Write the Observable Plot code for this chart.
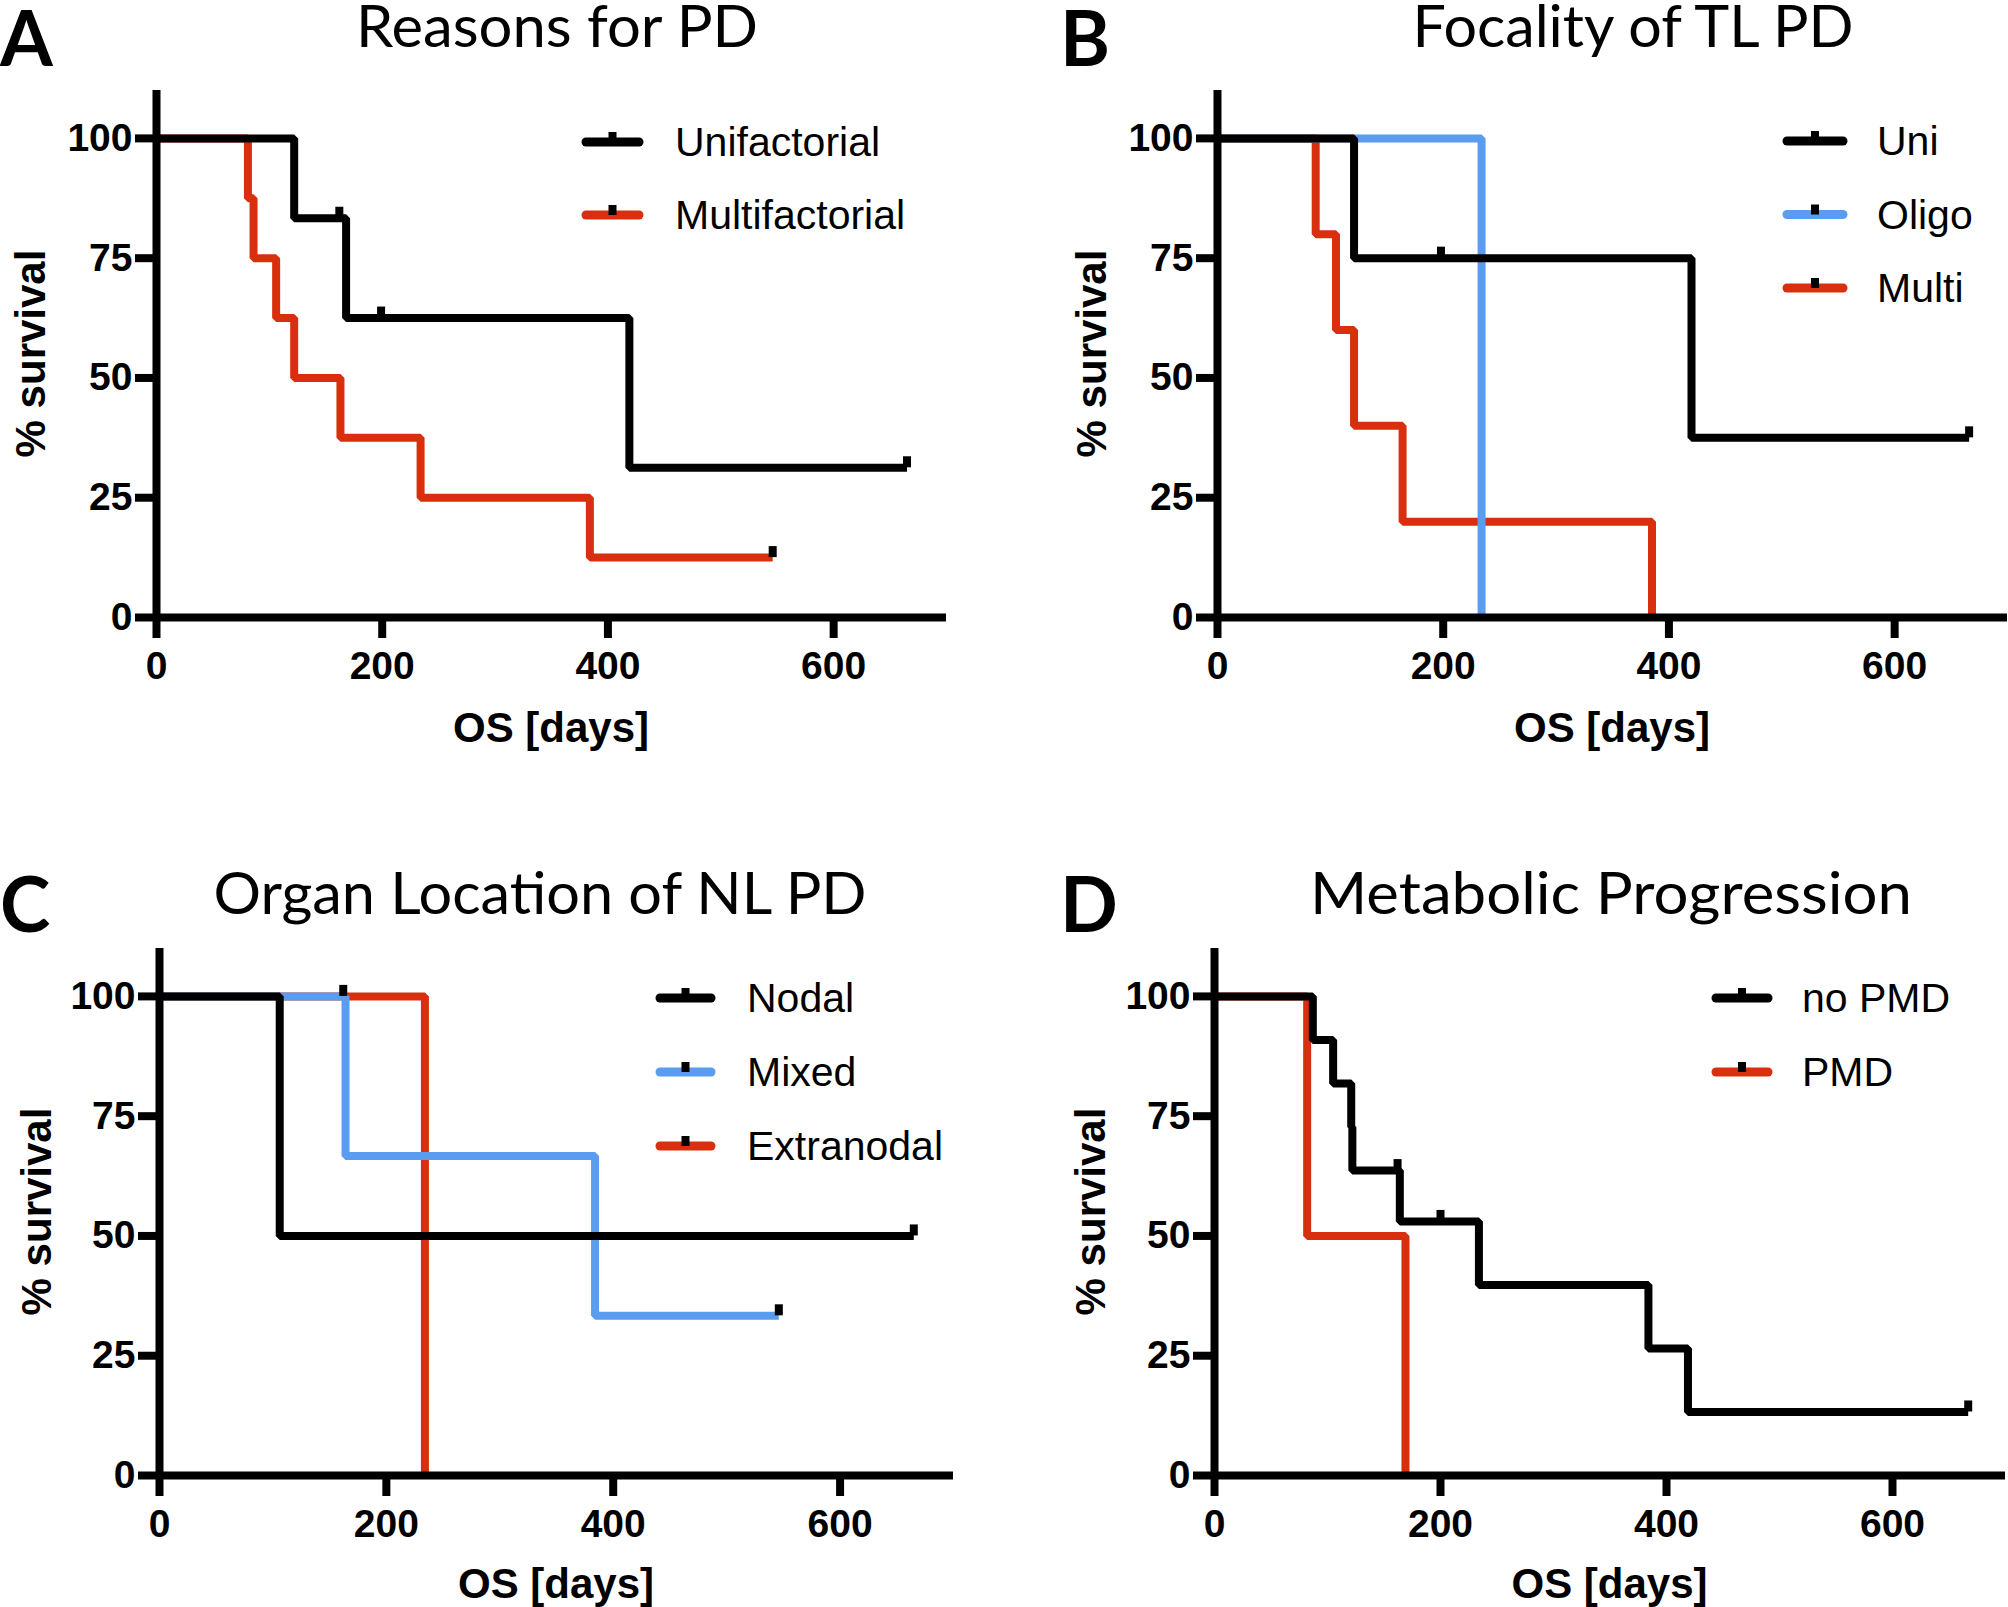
<!DOCTYPE html>
<html><head><meta charset="utf-8">
<script src="https://cdn.jsdelivr.net/npm/d3@7"></script>
<script src="https://cdn.jsdelivr.net/npm/@observablehq/plot@0.6"></script>
<style>
html,body{margin:0;padding:0;background:#fff}
body{width:2008px;height:1607px;position:relative;overflow:hidden}
.panel{position:absolute}
#overlay{position:absolute;left:0;top:0}
</style></head><body>
<script>
// ---------- data ----------
const xTicks = [0, 200, 400, 600];
const yTicks = [0, 25, 50, 75, 100];
const xLabel = "OS [days]";
const yLabel = "% survival";

const titles = ["Reasons for PD", "Focality of TL PD", "Organ Location of NL PD", "Metabolic Progression"];
const letters = ["A", "B", "C", "D"];

// Panel A
const A_names = ["Unifactorial", "Multifactorial"];
const A_uni_t = [0, 122, 168, 419, 665];
const A_uni_s = [100, 83.33, 62.5, 31.25, 31.25];
const A_uni_ct = [162, 199, 665];
const A_uni_cs = [83.33, 62.5, 31.25];
const A_multi_t = [0, 81, 86, 106, 122, 163, 234, 384, 546];
const A_multi_s = [100, 87.5, 75, 62.5, 50, 37.5, 25, 12.5, 12.5];
const A_multi_ct = [546];
const A_multi_cs = [12.5];

// Panel B
const B_names = ["Uni", "Oligo", "Multi"];
const B_uni_t = [0, 121, 420, 666];
const B_uni_s = [100, 75, 37.5, 37.5];
const B_uni_ct = [198, 666];
const B_uni_cs = [75, 37.5];
const B_oligo_t = [0, 234];
const B_oligo_s = [100, 0];
const B_multi_t = [0, 87, 105, 121, 164, 385];
const B_multi_s = [100, 80, 60, 40, 20, 0];

// Panel C
const C_names = ["Nodal", "Mixed", "Extranodal"];
const C_nodal_t = [0, 106, 665];
const C_nodal_s = [100, 50, 50];
const C_nodal_ct = [665];
const C_nodal_cs = [50];
const C_mixed_t = [0, 164, 384, 546];
const C_mixed_s = [100, 66.67, 33.33, 33.33];
const C_mixed_ct = [162, 546];
const C_mixed_cs = [100, 33.33];
const C_extra_t = [0, 234];
const C_extra_s = [100, 0];

// Panel D
const D_names = ["no PMD", "PMD"];
const D_no_t = [0, 87, 105, 121, 122, 164, 234, 384, 419, 667];
const D_no_s = [100, 90.91, 81.82, 72.73, 63.64, 53.03, 39.77, 26.52, 13.26, 13.26];
const D_no_ct = [162, 200, 667];
const D_no_cs = [63.64, 53.03, 13.26];
const D_pmd_t = [0, 82, 169];
const D_pmd_s = [100, 50, 0];

const BLACK = "#000000", RED = "#d8300f", BLUE = "#5a9cf0";

// ---------- build series ----------
function ser(name, color, t, s, ct = [], cs = []) { return {name, color, t, s, ct, cs}; }
const panels = [
  {series: [ser(A_names[0], BLACK, A_uni_t, A_uni_s, A_uni_ct, A_uni_cs),
            ser(A_names[1], RED, A_multi_t, A_multi_s, A_multi_ct, A_multi_cs)],
   left: 0, top: 0, ml: 156, fw: 790,
   title: {cx: 557, base: 47, len: 402}, letter: {x: 0, base: 66},
   xlab: {base: 742}, ylab: {x: 45},
   legend: {x1: 582, x2: 643, tx: 675, y0: 142, dy: 73}},
  {series: [ser(B_names[0], BLACK, B_uni_t, B_uni_s, B_uni_ct, B_uni_cs),
            ser(B_names[1], BLUE, B_oligo_t, B_oligo_s),
            ser(B_names[2], RED, B_multi_t, B_multi_s)],
   left: 1004, top: 0, ml: 213, fw: 790,
   title: {cx: 1633, base: 47, len: 441}, letter: {x: 1060, base: 66},
   xlab: {base: 742}, ylab: {x: 1106},
   legend: {x1: 1783, x2: 1847, tx: 1877, y0: 141, dy: 73.5}},
  {series: [ser(C_names[0], BLACK, C_nodal_t, C_nodal_s, C_nodal_ct, C_nodal_cs),
            ser(C_names[1], BLUE, C_mixed_t, C_mixed_s, C_mixed_ct, C_mixed_cs),
            ser(C_names[2], RED, C_extra_t, C_extra_s)],
   left: 0, top: 858, ml: 159, fw: 794,
   title: {cx: 540, base: 914, len: 653}, letter: {x: 0, base: 932},
   xlab: {base: 1598}, ylab: {x: 51},
   legend: {x1: 656, x2: 715, tx: 747, y0: 998, dy: 74}},
  {series: [ser(D_names[0], BLACK, D_no_t, D_no_s, D_no_ct, D_no_cs),
            ser(D_names[1], RED, D_pmd_t, D_pmd_s)],
   left: 1004, top: 858, ml: 210, fw: 791,
   title: {cx: 1611, base: 914, len: 602}, letter: {x: 1060, base: 932},
   xlab: {base: 1598}, ylab: {x: 1105},
   legend: {x1: 1712, x2: 1772, tx: 1802, y0: 998, dy: 74}}
];

const SVG_W = 1004, SVG_H = 700, M_TOP = 90, F_H = 527;
const LW = 8;

function panelPlot(p) {
  const marks = [];
  // draw series in reverse so the first legend entry is on top
  [...p.series].reverse().forEach(se => {
    const pts = se.t.map((t, j) => ({t, s: se.s[j]}));
    marks.push(Plot.line(pts, {x: "t", y: "s", curve: "step-after", stroke: se.color,
      strokeWidth: LW, strokeLinejoin: "miter", strokeLinecap: "butt"}));
  });
  const cens = [];
  p.series.forEach(se => se.ct.forEach((t, j) => cens.push({t, s: se.cs[j]})));
  marks.push(Plot.ruleX(cens, {x: "t", y1: "s", y2: d => d.s + 2.3, stroke: "#000", strokeWidth: LW}));
  marks.push(Plot.ruleX([0], {stroke: "#000", strokeWidth: LW, strokeLinecap: "butt"}));
  marks.push(Plot.ruleY([0], {stroke: "#000", strokeWidth: LW, strokeLinecap: "butt"}));
  marks.push(Plot.axisX({ticks: xTicks, tickSize: 21, tickPadding: 13, strokeWidth: LW, label: null,
    tickFormat: d => String(d), fontWeight: "bold"}));
  marks.push(Plot.axisY({ticks: yTicks, tickSize: 21, tickPadding: 3, strokeWidth: LW, label: null,
    tickFormat: d => String(d), fontWeight: "bold"}));
  return Plot.plot({
    width: SVG_W, height: SVG_H,
    marginLeft: p.ml, marginRight: SVG_W - p.ml - p.fw,
    marginTop: M_TOP, marginBottom: SVG_H - M_TOP - F_H,
    x: {domain: [0, 700]},
    y: {domain: [0, 110]},
    style: {fontFamily: "'Liberation Sans', Arial, sans-serif", fontSize: "39px", color: "#000",
      background: "transparent", overflow: "visible"},
    marks
  });
}

panels.forEach(p => {
  const el = panelPlot(p);
  el.classList.add("panel");
  el.style.left = p.left + "px";
  el.style.top = p.top + "px";
  document.body.appendChild(el);
});

// ---------- overlay: titles, panel letters, axis titles, legends ----------
const ov = d3.select(document.body).append("svg").attr("id", "overlay")
  .attr("width", 2008).attr("height", 1607);

panels.forEach((p, i) => {
  ov.append("text").text(letters[i])
    .attr("x", p.letter.x).attr("y", p.letter.base)
    .attr("font-family", "Lato, 'Open Sans', sans-serif").attr("font-weight", 700)
    .attr("font-size", 76).attr("fill", "#000");
  ov.append("text").text(titles[i])
    .attr("x", p.title.cx - p.title.len / 2).attr("y", p.title.base)
    .attr("textLength", p.title.len).attr("lengthAdjust", "spacingAndGlyphs")
    .attr("font-family", "Lato, 'Open Sans', sans-serif").attr("font-weight", 400)
    .attr("font-size", 58).attr("fill", "#000");
  ov.append("text").text(xLabel)
    .attr("x", p.ml + p.left + p.fw / 2).attr("y", p.xlab.base)
    .attr("text-anchor", "middle")
    .attr("font-family", "'Liberation Sans', Arial, sans-serif").attr("font-weight", 700)
    .attr("font-size", 42).attr("fill", "#000");
  const cy = p.top + M_TOP + F_H / 2;
  ov.append("text").text(yLabel)
    .attr("transform", `translate(${p.ylab.x},${cy}) rotate(-90)`)
    .attr("text-anchor", "middle")
    .attr("font-family", "'Liberation Sans', Arial, sans-serif").attr("font-weight", 700)
    .attr("font-size", 42).attr("fill", "#000");
  const L = p.legend;
  p.series.forEach((se, j) => {
    const y = L.y0 + j * L.dy;
    const xm = (L.x1 + L.x2) / 2;
    ov.append("line").attr("x1", L.x1 + 4).attr("x2", L.x2 - 4).attr("y1", y).attr("y2", y)
      .attr("stroke", se.color).attr("stroke-width", 9).attr("stroke-linecap", "round");
    ov.append("line").attr("x1", xm).attr("x2", xm).attr("y1", y).attr("y2", y - 10)
      .attr("stroke", "#000").attr("stroke-width", 8);
    ov.append("text").text(se.name).attr("x", L.tx).attr("y", y + 14)
      .attr("font-family", "'Liberation Sans', Arial, sans-serif").attr("font-size", 41)
      .attr("fill", "#000");
  });
});
</script>
</body></html>
